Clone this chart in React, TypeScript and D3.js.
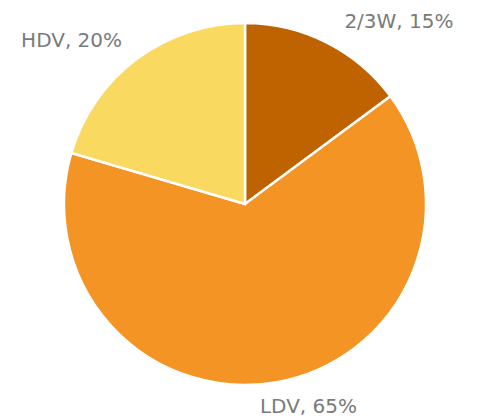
import React from 'react';
import * as d3 from 'd3';

// 数据（扇区角度按图读取，标签取整）
const categories = ['2/3W', 'LDV', 'HDV'];
const shares = [14.85, 64.7, 20.45];
const colors = ['#BF6200', '#F39425', '#F9D95F'];

const width = 479;
const height = 419;
const cx = 245;
const cy = 204;
const radius = 181;
// 标签位置微调 (dx, dy)，相对外圈锚点
const labelOffset: [number, number][] = [
  [64, 2.6],
  [28.5, 12],
  [-53.6, 3.6],
];

export default function App() {
  const pie = d3.pie<number>().sort(null).value(d => d);
  const arcs = pie(shares);
  const arc = d3.arc<d3.PieArcDatum<number>>().innerRadius(0).outerRadius(radius);
  const labelArc = d3.arc<d3.PieArcDatum<number>>().innerRadius(radius + 19).outerRadius(radius + 19);

  return (
    <svg width={width} height={height} style={{ position: 'absolute', left: 0, top: 0 }}>
      <rect width={width} height={height} fill="#ffffff" />
      <g transform={`translate(${cx},${cy})`}>
        {arcs.map((a, i) => (
          <path key={i} d={arc(a) || ''} fill={colors[i]} stroke="#ffffff" strokeWidth={2.5} strokeLinejoin="miter" />
        ))}
        {arcs.map((a, i) => {
          const [x, y] = labelArc.centroid(a);
          const [dx, dy] = labelOffset[i];
          return (
            <text
              key={'t' + i}
              x={x + dx}
              y={y + dy}
              textAnchor="middle"
              fill="#7a7a7a"
              fontFamily="'DejaVu Sans', sans-serif"
              fontSize={20}
            >
              {`${categories[i]}, ${Math.round(shares[i])}%`}
            </text>
          );
        })}
      </g>
    </svg>
  );
}
